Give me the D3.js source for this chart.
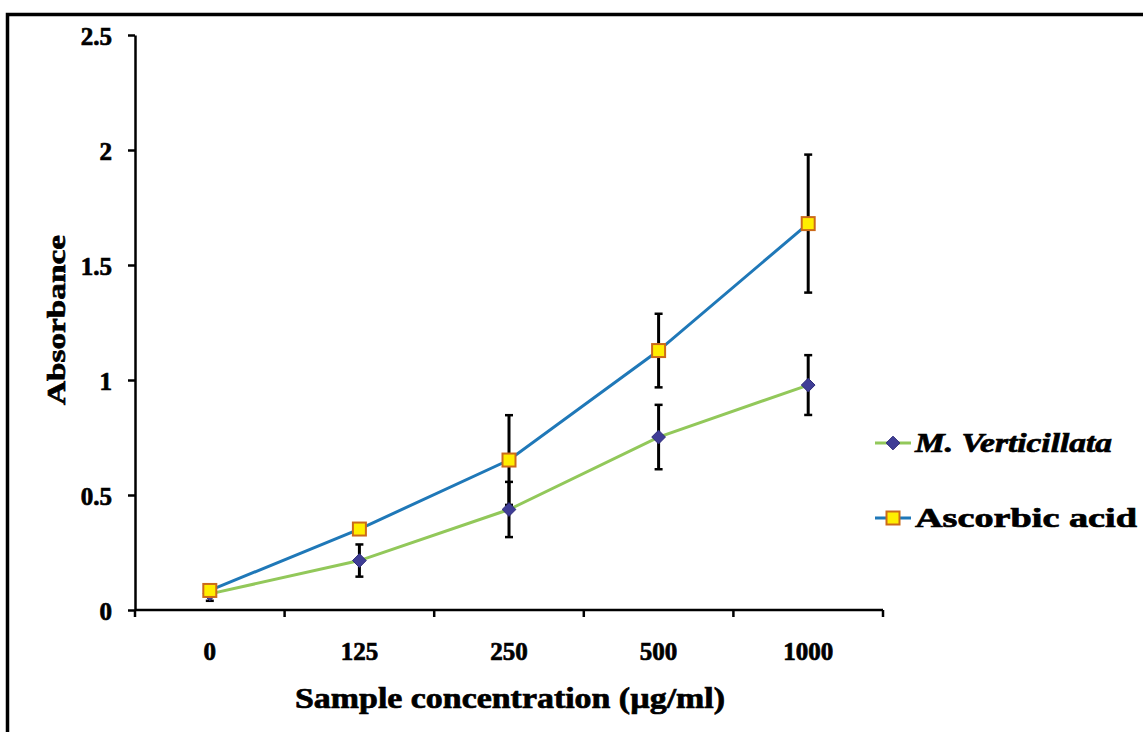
<!DOCTYPE html>
<html lang="en">
<head>
<meta charset="utf-8">
<title>Absorbance vs sample concentration</title>
<style>
  body { margin: 0; background: #fff; }
  svg { display: block; }
  .heavy { font-family: "Liberation Serif", "Times New Roman", serif; font-weight: bold; fill: #000; stroke: #000; stroke-width: 0.7px; }
</style>
</head>
<body>
<svg id="chart" width="1143" height="732"></svg>
<script src="https://d3js.org/d3.v7.min.js"></script>
<script>
// data
const categories = ["0", "125", "250", "500", "1000"];
const mvValues = [0.07, 0.215, 0.437, 0.752, 0.978];
const mvErrors = [0.03, 0.07, 0.12, 0.14, 0.13];
const aaValues = [0.085, 0.352, 0.652, 1.128, 1.68];
const aaErrors = [0.01, 0.0, 0.195, 0.16, 0.3];
const yTicks = [0, 0.5, 1, 1.5, 2, 2.5];

const series = [
  { name: "M. Verticillata", values: mvValues, errors: mvErrors, line: "#92c85a", shape: "diamond" },
  { name: "Ascorbic acid", values: aaValues, errors: aaErrors, line: "#1f78b8", shape: "square" }
];

const svg = d3.select("#chart");

// outer frame (cut off on right and bottom)
svg.append("path")
  .attr("d", "M7.5,740 V14.5 H1150")
  .attr("fill", "none")
  .attr("stroke", "#000")
  .attr("stroke-width", 3.5);

const x = d3.scaleBand().domain(categories).range([135, 883]).padding(0);
const y = d3.scaleLinear().domain([0, 2.5]).range([610, 35]);

// y axis
svg.append("g")
  .attr("transform", "translate(135,0)")
  .call(d3.axisLeft(y).tickValues(yTicks).tickFormat(d3.format("")).tickSize(7).tickSizeOuter(0).tickPadding(16))
  .call(g => g.attr("font-family", null).attr("font-size", null))
  .call(g => g.select(".domain").attr("stroke-width", 2.5))
  .call(g => g.selectAll(".tick line").attr("stroke-width", 2.5))
  .call(g => g.selectAll(".tick text").attr("class", "heavy").attr("font-size", 25).attr("dy", "0.36em"));

// x axis labels at category centres
svg.append("g")
  .attr("transform", "translate(0,610)")
  .call(d3.axisBottom(x).tickSize(0).tickPadding(32))
  .call(g => g.attr("font-family", null).attr("font-size", null))
  .call(g => g.select(".domain").remove())
  .call(g => g.selectAll(".tick text").attr("class", "heavy").attr("font-size", 25));

// x axis line and boundary ticks
const xa = svg.append("g");
xa.append("line")
  .attr("x1", x.range()[0]).attr("x2", x.range()[1])
  .attr("y1", y(0)).attr("y2", y(0))
  .attr("stroke", "#000").attr("stroke-width", 2.5);
xa.selectAll(".bt")
  .data(categories.map(c => x(c)).concat([x.range()[1]]))
  .join("line")
  .attr("x1", d => d).attr("x2", d => d)
  .attr("y1", y(0)).attr("y2", y(0) + 7)
  .attr("stroke", "#000").attr("stroke-width", 2.5);

const cx = c => x(c) + x.bandwidth() / 2;

// error bars
series.forEach(s => {
  const g = svg.append("g");
  categories.forEach((c, i) => {
    const e = s.errors[i];
    if (!e) return;
    const hi = y(s.values[i] + e), lo = y(s.values[i] - e);
    g.append("line").attr("x1", cx(c)).attr("x2", cx(c)).attr("y1", hi).attr("y2", lo)
      .attr("stroke", "#000").attr("stroke-width", 3);
    [hi, lo].forEach(v => g.append("line")
      .attr("x1", cx(c) - 4).attr("x2", cx(c) + 4).attr("y1", v).attr("y2", v)
      .attr("stroke", "#000").attr("stroke-width", 2.5));
  });
});

// lines
const line = d3.line().x((d, i) => cx(categories[i])).y(d => y(d));
series.forEach(s => {
  svg.append("path")
    .attr("d", line(s.values))
    .attr("fill", "none")
    .attr("stroke", s.line)
    .attr("stroke-width", 3);
});

function marker(g, shape, px, py) {
  if (shape === "diamond") {
    g.append("path")
      .attr("d", d3.symbol(d3.symbolDiamond2, 120)())
      .attr("transform", `translate(${px},${py})`)
      .attr("fill", "#3f3d96")
      .attr("stroke", "#2e2c7a")
      .attr("stroke-width", 1);
  } else {
    g.append("rect")
      .attr("x", px - 6.5).attr("y", py - 6.5)
      .attr("width", 13).attr("height", 13)
      .attr("fill", "#ffee00")
      .attr("stroke", "#cc6a1a")
      .attr("stroke-width", 2);
  }
}

// markers
series.forEach(s => {
  const g = svg.append("g");
  s.values.forEach((v, i) => marker(g, s.shape, cx(categories[i]), y(v)));
});

// axis titles
svg.append("text")
  .attr("class", "heavy")
  .attr("x", 510).attr("y", 708)
  .attr("text-anchor", "middle")
  .attr("font-size", 29)
  .attr("textLength", 430).attr("lengthAdjust", "spacingAndGlyphs")
  .text("Sample concentration (µg/ml)");

svg.append("text")
  .attr("class", "heavy")
  .attr("transform", "translate(65,320) rotate(-90)")
  .attr("text-anchor", "middle")
  .attr("font-size", 26)
  .attr("textLength", 170).attr("lengthAdjust", "spacingAndGlyphs")
  .text("Absorbance");

// legend
const legendY = [443, 518];
series.forEach((s, i) => {
  const g = svg.append("g");
  g.append("line").attr("x1", 875).attr("x2", 911).attr("y1", legendY[i]).attr("y2", legendY[i])
    .attr("stroke", s.line).attr("stroke-width", 3);
  marker(g, s.shape, 893, legendY[i]);
  g.append("text")
    .attr("class", "heavy")
    .attr("x", 915).attr("y", legendY[i] + 9)
    .attr("font-size", 27)
    .attr("font-style", i === 0 ? "italic" : "normal")
    .attr("textLength", i === 0 ? 197 : 222).attr("lengthAdjust", "spacingAndGlyphs")
    .text(s.name);
});
</script>
</body>
</html>
